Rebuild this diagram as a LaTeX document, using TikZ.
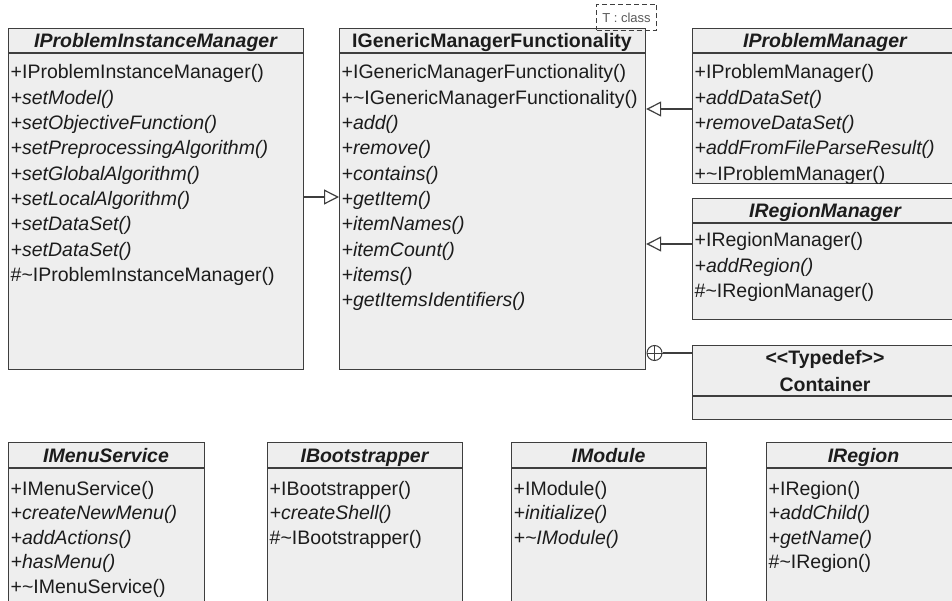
\documentclass[tikz,border=0pt]{standalone}
\usepackage{fontspec}
\setmainfont{Liberation Sans}
\usetikzlibrary{arrows.meta}
\definecolor{boxfill}{RGB}{238,238,238}
\definecolor{boxline}{RGB}{62,62,62}
\definecolor{txt}{RGB}{28,28,28}
\tikzset{
  umlbox/.style={draw=boxline, fill=boxfill, line width=1.2pt, inner sep=0pt, anchor=north west, rectangle},
  sepline/.style={draw=boxline, line width=1.2pt},
  member/.style={anchor=base west, inner sep=0pt, text=txt, font=\fontsize{19.5}{24}\selectfont},
  title/.style={anchor=base, inner sep=0pt, text=txt, font=\fontsize{19.5}{24}\selectfont\bfseries\itshape},
  titleup/.style={anchor=base, inner sep=0pt, text=txt, font=\fontsize{19.5}{24}\selectfont\bfseries},
  inh/.style={draw=boxline, line width=1.2pt, -{Triangle[open, length=15pt, width=15pt, line width=1.2pt]}},
  link/.style={draw=boxline, line width=1.2pt},
}
% name, x, y, w, h, separator y
\newcommand\umlclass[6]{%
  \node[umlbox, minimum width=#4pt, minimum height=#5pt] (#1) at (#2,#3) {};
  \draw[sepline] (#2,#6) -- ++(#4,0);
}
\begin{document}
\begin{tikzpicture}[x=1pt, y=-1pt]
\useasboundingbox (0,0) rectangle (952,601);
\clip (0,0) rectangle (952,601);

% ---------- IProblemInstanceManager
\umlclass{ipim}{8}{28}{295}{341}{53}
\node[title] (ipimt) at (155.5,47.5) {IProblemInstanceManager};
\foreach \t [count=\i from 0] in {{+IProblemInstanceManager()},{\itshape +setModel()},{\itshape +setObjectiveFunction()},{\itshape +setPreprocessingAlgorithm()},{\itshape +setGlobalAlgorithm()},{\itshape +setLocalAlgorithm()},{\itshape +setDataSet()},{\itshape +setDataSet()},{\#\textasciitilde IProblemInstanceManager()}}
  \node[member] (ipim-r\i) at (10.5,79+25.3*\i) {\t};

% ---------- IGenericManagerFunctionality
\umlclass{igm}{339}{28}{306}{341}{53}
\node[titleup] (igmt) at (492,47.5) {IGenericManagerFunctionality};
\foreach \t [count=\i from 0] in {{+IGenericManagerFunctionality()},{+\textasciitilde IGenericManagerFunctionality()},{\itshape +add()},{\itshape +remove()},{\itshape +contains()},{\itshape +getItem()},{\itshape +itemNames()},{\itshape +itemCount()},{\itshape +items()},{\itshape +getItemsIdentifiers()}}
  \node[member] (igm-r\i) at (341.5,79+25.3*\i) {\t};

% template parameter
\node[draw=boxline, dashed, dash pattern=on 5pt off 3pt, line width=1pt, minimum width=60pt, minimum height=26pt, inner sep=0pt, anchor=north west, text=black!65, font=\fontsize{13}{15}\selectfont] (tpl) at (596,4) {T : class};

% ---------- IProblemManager
\umlclass{ipm}{692}{28}{266}{155}{53}
\node[title] (ipmt) at (825,47.5) {IProblemManager};
\foreach \t [count=\i from 0] in {{+IProblemManager()},{\itshape +addDataSet()},{\itshape +removeDataSet()},{\itshape +addFromFileParseResult()},{+\textasciitilde IProblemManager()}}
  \node[member] (ipm-r\i) at (694.5,79+25.3*\i) {\t};

% ---------- IRegionManager
\umlclass{irm}{692}{198}{266}{121}{223}
\node[title] (irmt) at (825,217.5) {IRegionManager};
\foreach \t [count=\i from 0] in {{+IRegionManager()},{\itshape +addRegion()},{\#\textasciitilde IRegionManager()}}
  \node[member] (irm-r\i) at (694.5,247+25.3*\i) {\t};

% ---------- Container
\umlclass{cont}{692}{345}{266}{74}{396}
\node[titleup] (contt1) at (825,364.5) {<\kern0pt<Typedef>\kern0pt>};
\node[titleup] (contt2) at (825,391) {Container};

% ---------- bottom row
\umlclass{ims}{8}{442}{196}{180}{468}
\node[title] (imst) at (106,462) {IMenuService};
\foreach \t [count=\i from 0] in {{+IMenuService()},{\itshape +createNewMenu()},{\itshape +addActions()},{\itshape +hasMenu()},{+\textasciitilde IMenuService()}}
  \node[member] (ims-r\i) at (10.5,495+24.5*\i) {\t};

\umlclass{ibs}{267}{442}{195}{180}{468}
\node[title] (ibst) at (364.5,462) {IBootstrapper};
\foreach \t [count=\i from 0] in {{+IBootstrapper()},{\itshape +createShell()},{\#\textasciitilde IBootstrapper()}}
  \node[member] (ibs-r\i) at (269.5,495+24.5*\i) {\t};

\umlclass{imod}{511}{442}{195}{180}{468}
\node[title] (imodt) at (608.5,462) {IModule};
\foreach \t [count=\i from 0] in {{+IModule()},{\itshape +initialize()},{\itshape +\textasciitilde IModule()}}
  \node[member] (imod-r\i) at (513.5,495+24.5*\i) {\t};

\umlclass{ireg}{766}{442}{195}{180}{468}
\node[title] (iregt) at (863.5,462) {IRegion};
\foreach \t [count=\i from 0] in {{+IRegion()},{\itshape +addChild()},{\itshape +getName()},{\#\textasciitilde IRegion()}}
  \node[member] (ireg-r\i) at (768.5,495+24.5*\i) {\t};

% ---------- connectors
\coordinate (y1) at (0,197);
\coordinate (y2) at (0,109);
\coordinate (y3) at (0,244);
\draw[inh] (ipim.east |- y1) -- (igm.west |- y1);
\draw[inh] (ipm.west |- y2) -- (igm.east |- y2);
\draw[inh] (irm.west |- y3) -- (igm.east |- y3);

\node[circle, draw=boxline, line width=1pt, minimum size=15pt, inner sep=0pt] (nest) at (654.5,353) {};
\draw[boxline, line width=1pt] (nest.north) -- (nest.south) (nest.west) -- (nest.east);
\draw[link] (nest.east) -- (cont.west |- nest.east);
\end{tikzpicture}
\end{document}
